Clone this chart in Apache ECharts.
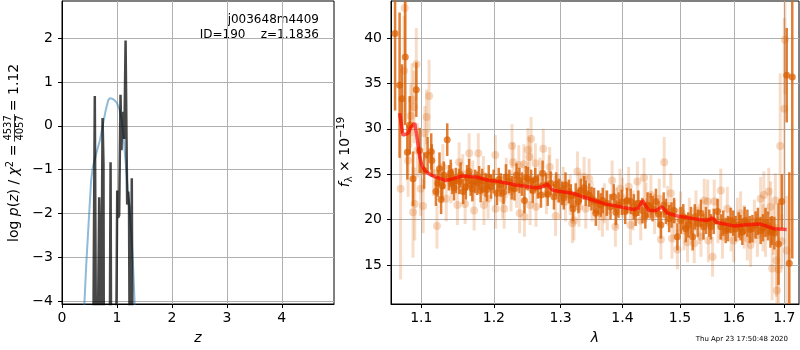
<!DOCTYPE html>
<html><head><meta charset="utf-8">
<script src="https://cdn.jsdelivr.net/npm/echarts@6/dist/echarts.min.js"></script>
<style>html,body{margin:0;padding:0;background:#fff}#c{width:800px;height:350px}</style>
</head><body><div id="c"></div>
<script>
// ---------- tick labels ----------
const pzTicksX = [0, 1, 2, 3, 4];
const pzTicksY = [-4, -3, -2, -1, 0, 1, 2];
const specTicksX = [1.1, 1.2, 1.3, 1.4, 1.5, 1.6, 1.7];
const specTicksY = [15, 20, 25, 30, 35, 40];

// ---------- left panel: log p(z) ----------
const zBlue = [0.36,0.41,0.44,0.49,0.53,0.56,0.62,0.69,0.74,0.80,0.84,0.87,0.91,0.96,1.00,1.04,1.08,1.11,1.14,1.17,1.20,1.23,1.26,1.29,1.32,1.36];
const logpBlue = [-6,-4,-3.2,-2.1,-1.25,-0.95,-0.65,-0.33,0.0,0.38,0.58,0.63,0.62,0.58,0.52,0.40,0.18,-0.1,-0.56,-1.0,-1.48,-1.95,-2.46,-3.1,-4.0,-5.5];

const zBlack = [0.50,0.555,0.597,0.628,0.66,0.677,0.69,0.70,0.715,0.738,0.755,0.765,0.78,0.86,0.884,0.90,0.97,1.005,1.02,1.04,1.065,1.083,1.095,1.11,1.12,1.135,1.157,1.174,1.186,1.205,1.22,1.24,1.27,1.29,1.35];
const logpBlack = [-8,-8,0.68,-8,-8,-1.63,-2.7,-8,-8,0.18,-0.87,-8,-8,-8,-0.83,-8,-8,-1.48,-2.1,-2.05,0.71,-0.56,0.32,-0.3,0.1,-0.3,1.95,-0.28,-1.8,-1.5,-1.85,-8,-1.2,-8,-8];

// ---------- right panel: spectrum ----------
const darkLam = [1.0659,1.0717,1.0747,1.0790,1.0817,1.0848,1.0891,1.0934,1.0979,1.1037,1.1083,1.1131,1.1139,1.1194,1.1242,1.1264,1.1301,1.1347,1.1394,1.1417,1.1464,1.1510,1.1565,1.1603,1.1649,1.1694,1.1732,1.1764,1.1811,1.1833,1.1881,1.1926,1.1996,1.2045,
 1.2100,1.2175,1.2224,1.2299,1.2373,1.2448,1.2499,1.2548,1.2573,1.2648,1.2697,1.2722,1.2772,1.2846,1.2896,1.2970,1.3023,1.3076,1.3129,1.3194,1.3237,1.3318,1.3398,1.3452,1.3532,1.3560,1.3640,1.3673,
 1.3801,1.3855,1.3935,1.4047,1.4077,1.4193,1.4223,1.4340,1.4428,1.4516,1.4574,1.4661,1.4749,1.4807,1.4895,1.4954,1.5013,1.5106,1.5198,1.5230,1.5322,1.5383,1.5476,1.5537,
 1.5568,1.5692,1.5753,1.5846,1.5939,1.6033,1.6098,1.6165,1.6263,1.6361,1.6425,1.6524,1.6622,1.6720,1.6798,1.6882,1.6949,1.7049,1.7102,1.7163,
 1.1220,1.1280,1.1370,1.1440,1.1530,1.1620,1.1670,1.1790,1.1900,1.1960,1.2070,1.2140,1.2260,1.2330,1.2410,1.2470,1.2610,1.2800,1.2930,1.3050,
 1.3160,1.3280,1.3370,1.3490,1.3600,1.3740,1.3890,1.3990,1.4140,1.4270,1.4390,1.4480,1.4620,1.4710,1.4850,1.5060,1.5150,1.5270,1.5430,1.5620,
 1.5800,1.5890,1.5990,1.6130,1.6210,1.6310,1.6470,1.6570,1.6670,1.6750];
const darkFlux = [40.5,34.8,33.3,37.9,27.4,30.4,24.5,34.3,27.6,25.4,27.1,27.5,26.5,23.1,25.6,22.2,24.9,28.8,25.1,24.2,24.3,24.2,23.1,23.6,25.3,23.4,24.2,24.0,23.2,24.3,23.8,24.7,24.2,22.9,
 23.8,24.7,24.2,23.4,24.3,22.1,24.5,24.2,23.2,23.6,22.7,25.1,23.8,24.0,22.5,23.2,22.9,23.8,23.1,21.2,22.7,23.2,22.9,22.7,22.1,20.7,21.6,22.1,
 21.4,22.5,21.6,20.9,22.1,21.4,20.7,21.0,21.6,21.2,22.0,19.4,20.9,20.1,21.0,18.1,19.9,19.0,19.9,18.1,19.6,20.7,19.9,19.6,
 19.2,20.9,19.2,18.8,19.9,19.0,19.4,18.6,19.6,19.0,19.4,18.8,19.7,18.6,18.5,17.3,22.0,35.9,15.2,35.7,
 24.0,23.7,24.6,23.5,24.9,24.6,23.9,24.6,23.3,23.6,24.4,23.0,23.5,24.9,23.9,24.6,24.4,22.8,23.9,22.4,
 22.6,22.0,23.5,22.3,21.9,21.8,20.8,21.9,22.0,21.8,20.4,21.5,20.6,21.6,20.5,20.3,19.4,20.3,19.2,19.8,
 19.6,19.0,19.6,19.1,19.9,18.9,19.8,19.1,19.3,18.8];
const darkErr = [8.5,8.0,3.8,7.5,3.0,3.2,3.0,3.0,2.5,2.0,2.0,2.0,1.8,1.6,1.8,1.6,1.5,1.8,1.5,1.4,1.4,1.4,1.4,1.4,1.4,1.4,1.3,1.3,1.3,1.3,1.3,1.3,1.3,1.3,
 1.3,1.4,1.3,1.3,1.4,1.4,1.3,1.3,1.4,1.3,1.4,1.4,1.3,1.3,1.4,1.3,1.3,1.4,1.3,1.4,1.3,1.3,1.4,1.3,1.4,1.4,1.3,1.4,
 1.4,1.4,1.4,1.4,1.4,1.4,1.4,1.4,1.4,1.4,1.4,1.5,1.4,1.5,1.4,1.5,1.5,1.5,1.5,1.5,1.5,1.5,1.5,1.5,
 1.4,1.4,1.4,1.4,1.4,1.4,1.4,1.4,1.5,1.5,1.5,1.5,1.6,1.7,1.8,4.5,3.0,5.2,10.0,20.0,
 1.5,1.5,1.4,1.4,1.4,1.4,1.3,1.3,1.3,1.3,1.3,1.3,1.3,1.3,1.3,1.3,1.3,1.3,1.3,1.3,
 1.3,1.3,1.3,1.3,1.3,1.4,1.4,1.4,1.4,1.4,1.4,1.4,1.4,1.4,1.4,1.4,1.4,1.4,1.4,1.4,
 1.4,1.4,1.4,1.4,1.5,1.5,1.5,1.5,1.6,1.6];

const lightLam = [1.0730,1.0774,1.0783,1.0826,1.0861,1.0878,1.0891,1.0904,1.0913,1.0934,1.0948,1.0992,1.1024,1.1047,1.1069,1.1103,1.1163,1.1208,1.1288,1.1333,
 1.1486,1.1510,1.1593,1.1649,1.1718,1.1778,1.1857,1.1917,1.2021,1.2025,1.2125,1.2149,1.2249,1.2264,1.2279,1.2364,1.2376,1.2439,1.2448,1.2499,
 1.2523,1.2533,1.2548,1.2612,1.2622,1.2732,1.2821,1.2831,1.2921,1.2946,1.2995,1.3076,1.3184,1.3210,1.3265,1.3290,1.3371,1.3398,1.3452,1.3613,
 1.3668,1.3748,1.3828,1.3882,1.3960,1.4105,1.4135,1.4253,1.4311,1.4368,1.4486,1.4632,1.4661,1.4719,1.4837,1.4857,1.4954,1.5013,1.5074,1.5137,
 1.5259,1.5291,1.5383,1.5444,1.5507,1.5520,1.5599,1.5630,1.5753,1.5784,1.5877,1.6000,1.6131,1.6263,1.6327,1.6460,1.6524,1.6588,1.6622,1.6686,
 1.6720,1.6753,1.6818,1.6837,1.6851,1.6882,1.6916,1.7000,1.7014,1.7049,
 1.1400,1.1560,1.1700,1.1850,1.2180,1.2330,1.2680,1.2780,1.3040,1.3150,1.3300,1.3500,1.3700,1.3900,1.4000,1.4180,1.4400,1.4550,1.4780,1.4900,
 1.5170,1.5350,1.5700,1.5950,1.6070,1.6200,1.6400,1.6570,1.6780,1.6950];
const lightFlux = [23.4,36.4,43.3,26.5,31.4,33.2,20.8,32.4,21.7,37.1,27.6,23.4,21.5,29.5,31.3,33.6,25.1,19.3,25.8,22.3,
 21.6,26.3,21.7,27.3,21.0,27.3,21.6,22.3,27.1,21.2,22.3,21.2,23.1,28.1,26.3,26.0,20.7,26.1,20.3,27.7,
 26.9,21.6,28.9,26.2,21.4,27.8,24.9,25.8,20.4,24.5,22.2,22.0,19.6,19.9,25.3,21.4,24.7,21.2,24.5,21.0,
 20.3,21.0,24.3,19.2,23.4,23.6,19.4,24.2,19.9,24.6,22.7,22.3,17.8,26.3,22.9,17.9,16.7,20.9,18.8,17.5,
 17.4,21.0,18.1,22.1,22.0,17.7,15.9,22.0,23.2,18.1,21.2,17.7,20.7,17.9,17.2,18.3,22.3,22.7,18.5,23.1,
 21.4,14.6,22.1,15.5,12.2,14.5,28.1,32.2,39.8,16.6,
 24.0,25.0,24.3,24.8,24.6,23.5,24.6,22.8,23.6,22.7,23.0,22.0,21.8,21.3,22.4,21.0,21.9,20.6,21.5,20.0,
 20.2,19.5,19.8,18.9,20.0,19.2,19.8,19.1,18.9,17.6];
const lightErr = [10,6,5,4,3.5,4,5,4,4,4,3,3,3,3,3,4,2.5,2.5,2.5,2.5,
 2.2,2.2,2.2,2.2,2.2,2.2,2.2,2.2,2.2,2.2,2.2,2.2,2.2,2.4,2.2,2.2,2.2,2.2,2.2,2.4,
 2.2,2.2,2.4,2.2,2.2,2.2,2.2,2.2,2.2,2.2,2.2,2.2,2.2,2.2,2.2,2.2,2.2,2.2,2.2,2.2,
 2.2,2.2,2.2,2.2,2.2,2.2,2.2,2.2,2.2,2.2,2.2,2.2,2.2,2.8,2.2,2.2,2.2,2.2,2.2,2.2,
 2.2,2.2,2.2,2.4,2.4,2.4,2.2,2.4,2.4,2.4,2.4,2.4,2.4,2.4,2.4,2.4,2.4,2.6,2.6,2.6,
 2.8,3.5,3.0,4.0,4.5,4.5,8.0,10.0,6.0,6.0,
 2.2,2.2,2.2,2.2,2.2,2.2,2.2,2.2,2.2,2.2,2.2,2.2,2.2,2.2,2.2,2.2,2.2,2.2,2.2,2.2,
 2.2,2.2,2.4,2.4,2.4,2.4,2.4,2.6,2.8,3.0];

const modelLam = [1.0717,1.0760,1.0783,1.0826,1.0865,1.0913,1.0944,1.0979,1.1010,1.1047,1.1107,1.1186,1.1325,1.1426,1.1551,1.1742,1.1926,1.2070,1.2324,1.2622,1.2712,1.2797,1.2846,1.2891,1.3184,1.3398,1.3721,1.3963,1.4188,1.4275,1.4340,1.4398,1.4450,1.4574,1.4626,1.4679,1.4779,1.4954,1.5254,1.5476,1.5550,1.5599,1.5661,1.5753,1.6000,1.6196,1.6524,1.6680,1.6784,1.7049];
const modelFlux = [31.7,29.3,29.2,29.5,30.2,30.6,29.0,26.9,25.9,25.4,25.0,24.7,24.3,24.5,24.8,24.7,24.3,24.2,23.8,23.5,23.6,23.9,23.4,23.2,22.9,22.4,21.7,21.4,21.1,21.3,22.1,21.5,21.0,21.0,21.2,21.4,20.7,20.4,20.1,19.9,20.0,20.2,19.7,19.6,19.3,19.4,19.5,19.2,19.0,18.9];

// ---------- build ----------
const FONT = 'DejaVu Sans';
const lamMin = 1.0607, lamMax = 1.7302;
const ORANGE = '217,95,2';
const minus = v => String(v).replace('-', '\u2212');

const blueData = zBlue.map((z, i) => [z, logpBlue[i]]);
const blackData = zBlack.map((z, i) => [z, logpBlack[i]]);
const darkData = darkLam.map((l, i) => [Math.log(l), darkFlux[i], darkErr[i]]);
const lightData = lightLam.map((l, i) => [Math.log(l), lightFlux[i], lightErr[i]]);
const modelData = modelLam.map((l, i) => [Math.log(l), modelFlux[i]]);

function errBar(color, width) {
  return function (params, api) {
    const x = api.value(0), y = api.value(1), e = api.value(2);
    const p1 = api.coord([x, y - e]), p2 = api.coord([x, y + e]);
    return { type: 'line', shape: { x1: p1[0], y1: p1[1], x2: p2[0], y2: p2[1] },
      style: { stroke: color, lineWidth: width } };
  };
}

function axisBase(ticks, fmt, margin) {
  return {
    axisLine: { show: true, onZero: false, lineStyle: { color: '#000', width: 1 } },
    axisTick: { show: true, inside: false, length: 4, customValues: ticks, lineStyle: { color: '#000', width: 1 } },
    axisLabel: { show: true, customValues: ticks, formatter: fmt, color: '#000', fontFamily: FONT, fontSize: 14, margin: margin },
    splitLine: { show: true, lineStyle: { color: '#b0b0b0', width: 1 } }
  };
}

// text measuring for the composite axis label
const mctx = document.createElement('canvas').getContext('2d');
function tw(t, font) { mctx.font = font; return mctx.measureText(t).width; }
const fN = '14px "DejaVu Sans"', fI = 'italic 14px "DejaVu Sans"', fS = '10px "DejaVu Sans"';
const wA = tw('log ', fN) + tw('p', fI) + tw('(', fN) + tw('z', fI) + tw(') / ', fN) + tw('χ', fI) + tw('2', fS) + tw(' =', fN);
const wFrac = Math.max(tw('4537', fS), tw('4057', fS)) + 2;
const fracX = wA + 3 + wFrac / 2;
const eqX = wA + 3 + wFrac + 3;

const rich = {
  n: { fontFamily: FONT, fontSize: 14, lineHeight: 18, fill: '#000', color: '#000' },
  i: { fontFamily: FONT, fontSize: 14, fontStyle: 'italic', lineHeight: 18, fill: '#000', color: '#000' },
  s: { fontFamily: FONT, fontSize: 10, lineHeight: 10, verticalAlign: 'top', fill: '#000', color: '#000' },
  b: { fontFamily: FONT, fontSize: 10, lineHeight: 8, verticalAlign: 'bottom', fill: '#000', color: '#000' }
};

const chart = echarts.init(document.getElementById('c'), null, { renderer: 'canvas' });
chart.setOption({
  animation: false,
  backgroundColor: '#fff',
  grid: [
    { left: 62, right: 466, top: 1, bottom: 46, show: true, borderColor: '#000', borderWidth: 1, containLabel: false },
    { left: 391, right: 1, top: 1, bottom: 46, show: true, borderColor: '#000', borderWidth: 1, containLabel: false }
  ],
  xAxis: [
    Object.assign({ gridIndex: 0, type: 'value', min: 0, max: 4.95, name: 'z', nameLocation: 'middle', nameGap: 27,
      nameTextStyle: { fontFamily: FONT, fontSize: 14, fontStyle: 'italic', color: '#000' } },
      axisBase(pzTicksX, v => minus(v), 7)),
    Object.assign({ gridIndex: 1, type: 'value', min: Math.log(lamMin), max: Math.log(lamMax), name: 'λ', nameLocation: 'middle', nameGap: 27,
      nameTextStyle: { fontFamily: FONT, fontSize: 14, fontStyle: 'italic', color: '#000' } },
      axisBase(specTicksX.map(Math.log), v => Math.exp(v).toFixed(1), 7))
  ],
  yAxis: [
    Object.assign({ gridIndex: 0, type: 'value', min: -4.07, max: 2.85 }, axisBase(pzTicksY, v => minus(v), 9)),
    Object.assign({ gridIndex: 1, type: 'value', min: 10.7, max: 44.07 }, axisBase(specTicksY, v => String(v), 9))
  ],
  series: [
    { type: 'line', xAxisIndex: 0, yAxisIndex: 0, data: blueData, showSymbol: false, clip: true, z: 3,
      lineStyle: { color: 'rgba(31,119,180,0.5)', width: 2 } },
    { type: 'line', xAxisIndex: 0, yAxisIndex: 0, data: blackData, showSymbol: false, clip: true, z: 4,
      lineStyle: { color: 'rgba(0,0,0,0.72)', width: 2.5 } },
    { type: 'custom', xAxisIndex: 1, yAxisIndex: 1, data: lightData, clip: true, z: 2,
      renderItem: errBar('rgba(' + ORANGE + ',0.22)', 3) },
    { type: 'scatter', xAxisIndex: 1, yAxisIndex: 1, data: lightData, clip: true, z: 2, symbolSize: 8,
      itemStyle: { color: 'rgba(' + ORANGE + ',0.3)' } },
    { type: 'custom', xAxisIndex: 1, yAxisIndex: 1, data: darkData, clip: true, z: 3,
      renderItem: errBar('rgba(' + ORANGE + ',0.8)', 2.5) },
    { type: 'scatter', xAxisIndex: 1, yAxisIndex: 1, data: darkData, clip: true, z: 3, symbolSize: 7,
      itemStyle: { color: 'rgba(' + ORANGE + ',0.9)' } },
    { type: 'line', xAxisIndex: 1, yAxisIndex: 1, data: modelData, showSymbol: false, clip: true, z: 5,
      lineStyle: { color: 'rgba(255,0,0,0.65)', width: 3.5 } }
  ],
  graphic: [
    { type: 'text', x: 319, y: 20, style: { text: 'j003648m4409', fontFamily: FONT, fontSize: 12, fill: '#000',
      align: 'right', textAlign: 'right', verticalAlign: 'middle', textVerticalAlign: 'middle' } },
    { type: 'text', x: 319, y: 34.5, style: { text: 'ID=190    z=1.1836', fontFamily: FONT, fontSize: 12, fill: '#000',
      align: 'right', textAlign: 'right', verticalAlign: 'middle', textVerticalAlign: 'middle' } },
    { type: 'text', x: 788, y: 339, style: { text: 'Thu Apr 23 17:50:48 2020', fontFamily: FONT, fontSize: 7, fill: '#000',
      align: 'right', textAlign: 'right', verticalAlign: 'middle', textVerticalAlign: 'middle' } },
    { type: 'group', x: 14.5, y: 242, rotation: Math.PI / 2, children: [
      { type: 'text', x: 0, y: 0, style: { text: '{n|log }{i|p}{n|(}{i|z}{n|) / }{i|χ}{s|2}{n| =}', rich: rich,
        align: 'left', textAlign: 'left', verticalAlign: 'middle', textVerticalAlign: 'middle' } },
      { type: 'text', x: fracX, y: -6, style: { text: '4537', fontFamily: FONT, fontSize: 10, fill: '#000',
        align: 'center', textAlign: 'center', verticalAlign: 'middle', textVerticalAlign: 'middle' } },
      { type: 'line', shape: { x1: wA + 3, y1: 0, x2: wA + 3 + wFrac, y2: 0 }, style: { stroke: '#000', lineWidth: 0.8 } },
      { type: 'text', x: fracX, y: 6, style: { text: '4057', fontFamily: FONT, fontSize: 10, fill: '#000',
        align: 'center', textAlign: 'center', verticalAlign: 'middle', textVerticalAlign: 'middle' } },
      { type: 'text', x: eqX, y: 0, style: { text: '= 1.12', fontFamily: FONT, fontSize: 14, fill: '#000',
        align: 'left', textAlign: 'left', verticalAlign: 'middle', textVerticalAlign: 'middle' } }
    ] },
    { type: 'group', x: 345, y: 152, rotation: Math.PI / 2, children: [
      { type: 'text', x: 0, y: 0, style: { text: '{i|f}{b|λ}{n| × 10}{s|\u221219}', rich: rich,
        align: 'center', textAlign: 'center', verticalAlign: 'middle', textVerticalAlign: 'middle' } }
    ] }
  ]
});
</script></body></html>
